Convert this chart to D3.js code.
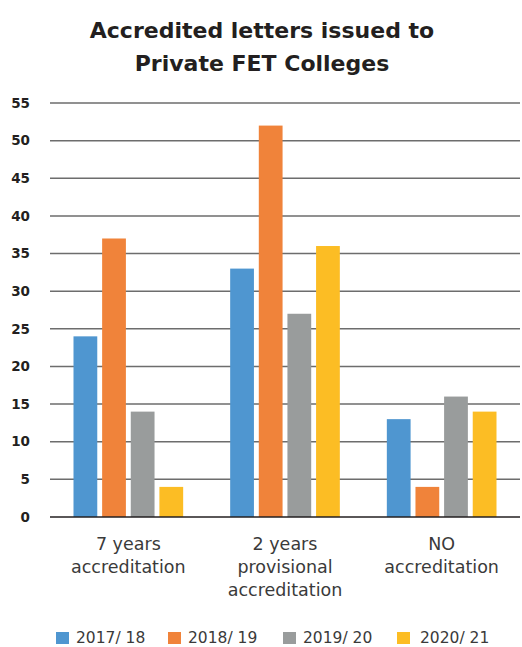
<!DOCTYPE html>
<html>
<head>
<meta charset="utf-8">
<script src="https://cdn.jsdelivr.net/npm/d3@7"></script>
<style>
  body { margin: 0; background: #fff; }
  svg { display: block; font-family: "DejaVu Sans", sans-serif; }
</style>
</head>
<body>
<div class="chart"></div>
<script>
const width = 522
const height = 647
const margin = { top: 103, right: 2, bottom: 130, left: 50 }

// data
const categories = ["7 years accreditation", "2 years provisional accreditation", "NO accreditation"]
const categoryLines = [["7 years", "accreditation"], ["2 years", "provisional", "accreditation"], ["NO", "accreditation"]]
const seriesNames = ["2017/ 18", "2018/ 19", "2019/ 20", "2020/ 21"]
const values2017 = [24, 33, 13]
const values2018 = [37, 52, 4]
const values2019 = [14, 27, 16]
const values2020 = [4, 36, 14]
const yTicks = [0, 5, 10, 15, 20, 25, 30, 35, 40, 45, 50, 55]
const colors = ["#4f96d0", "#f0833a", "#999c9c", "#fcbd24"]

const seriesValues = [values2017, values2018, values2019, values2020]

const svg = d3.select(".chart").append("svg")
    .attr("width", width)
    .attr("height", height)

// title
const title = svg.append("text")
    .attr("text-anchor", "middle")
    .attr("font-size", 22)
    .attr("font-weight", "bold")
    .attr("fill", "#231f20")
title.append("tspan").attr("x", 262).attr("y", 38).text("Accredited letters issued to")
title.append("tspan").attr("x", 262).attr("y", 71).text("Private FET Colleges")

const x = d3.scaleBand()
    .domain(categories)
    .range([margin.left, width - margin.right])
    .paddingInner(0.3)
    .paddingOuter(0.15)

const xInner = d3.scaleBand()
    .domain(seriesNames)
    .range([0, x.bandwidth()])
    .paddingInner(0.17)
    .paddingOuter(0)

const y = d3.scaleLinear()
    .domain([0, 55])
    .range([height - margin.bottom, margin.top])

// grid
svg.append("g")
    .selectAll("line")
    .data(yTicks.filter(d => d > 0))
    .join("line")
    .attr("x1", margin.left)
    .attr("x2", width - margin.right)
    .attr("y1", d => y(d))
    .attr("y2", d => y(d))
    .attr("stroke", "#6d6d6d")
    .attr("stroke-width", 1.5)

// y labels
svg.append("g")
    .selectAll("text")
    .data(yTicks)
    .join("text")
    .attr("x", 30)
    .attr("y", d => y(d))
    .attr("dy", "0.35em")
    .attr("text-anchor", "end")
    .attr("font-size", 13.5)
    .attr("font-weight", "bold")
    .attr("fill", "#231f20")
    .text(d => d)

// bars
const groups = svg.append("g")
    .selectAll("g")
    .data(seriesNames.map((s, i) => ({ name: s, values: seriesValues[i], color: colors[i] })))
    .join("g")
    .attr("fill", d => d.color)

groups.selectAll("rect")
    .data(d => d.values.map((v, j) => ({ series: d.name, cat: categories[j], value: v })))
    .join("rect")
    .attr("x", d => x(d.cat) + xInner(d.series))
    .attr("width", xInner.bandwidth())
    .attr("y", d => y(d.value))
    .attr("height", d => y(0) - y(d.value))

// baseline
svg.append("line")
    .attr("x1", margin.left)
    .attr("x2", width - margin.right)
    .attr("y1", y(0))
    .attr("y2", y(0))
    .attr("stroke", "#231f20")
    .attr("stroke-width", 1.5)

// x labels
const xl = svg.append("g")
    .selectAll("text")
    .data(categories)
    .join("text")
    .attr("text-anchor", "middle")
    .attr("font-size", 17.5)
    .attr("fill", "#3a3a3a")
xl.selectAll("tspan")
    .data((d, i) => categoryLines[i].map(t => ({ t, cat: d })))
    .join("tspan")
    .attr("x", d => x(d.cat) + x.bandwidth() / 2)
    .attr("y", (d, k) => 550 + k * 23)
    .text(d => d.t)

// legend
const legendX = [56, 168, 283, 397]
const legend = svg.append("g")
    .selectAll("g")
    .data(seriesNames)
    .join("g")
    .attr("transform", (d, i) => `translate(${legendX[i]},632)`)
legend.append("rect")
    .attr("width", 13)
    .attr("height", 12)
    .attr("fill", (d, i) => colors[i])
legend.append("text")
    .attr("x", (d, i) => i == 3 ? 23 : 20)
    .attr("y", 6)
    .attr("dy", "0.35em")
    .attr("font-size", 15.5)
    .attr("fill", "#3a3a3a")
    .text(d => d)
</script>
</body>
</html>
